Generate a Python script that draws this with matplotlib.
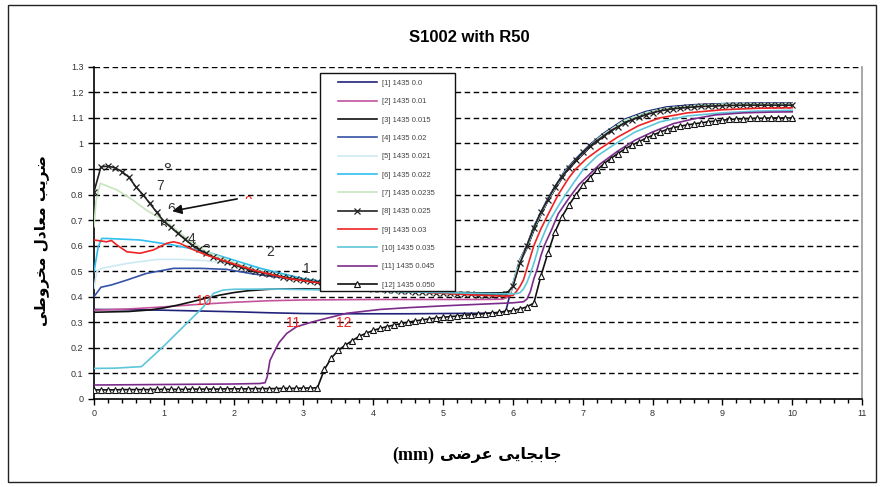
import numpy as np
import matplotlib
matplotlib.use("Agg")
import matplotlib.pyplot as plt
from matplotlib.patches import Rectangle
from matplotlib.transforms import Bbox, TransformedBbox

plt.rcParams['font.family'] = ['Liberation Sans', 'DejaVu Sans']

# ---- data ----
x_step = [round(0.1 * i, 1) for i in range(101)]  # markers every 0.1 mm

y_08 = [0.811, 0.909, 0.911, 0.905, 0.89, 0.868, 0.83, 0.80, 0.765, 0.73,
        0.695, 0.672, 0.648, 0.625, 0.603, 0.585, 0.57, 0.556, 0.545, 0.535,
        0.525, 0.516, 0.508, 0.50, 0.494, 0.488, 0.483, 0.477, 0.472, 0.468,
        0.464, 0.46, 0.456, 0.452, 0.449, 0.446, 0.443, 0.44, 0.437, 0.434,
        0.432, 0.43, 0.428, 0.426, 0.424, 0.422, 0.42, 0.419, 0.417, 0.416,
        0.414, 0.413, 0.412, 0.41, 0.409, 0.408, 0.407, 0.406, 0.406, 0.41,
        0.44, 0.53, 0.60, 0.67, 0.73, 0.78, 0.83, 0.87, 0.905, 0.935,
        0.965, 0.99, 1.01, 1.03, 1.05, 1.065, 1.08, 1.092, 1.102, 1.112,
        1.12, 1.127, 1.132, 1.136, 1.139, 1.141, 1.143, 1.145, 1.146, 1.147,
        1.148, 1.149, 1.149, 1.15, 1.15, 1.15, 1.15, 1.15, 1.15, 1.15, 1.15]

y_12 = [0.035, 0.035, 0.035, 0.035, 0.036, 0.036, 0.036, 0.036, 0.036, 0.037,
        0.037, 0.037, 0.037, 0.037, 0.038, 0.038, 0.038, 0.038, 0.038, 0.039,
        0.039, 0.039, 0.039, 0.040, 0.040, 0.040, 0.040, 0.041, 0.041, 0.041,
        0.042, 0.042, 0.043, 0.115, 0.16, 0.19, 0.21, 0.228, 0.245, 0.257,
        0.268, 0.276, 0.283, 0.289, 0.295, 0.300, 0.305, 0.309, 0.313, 0.316,
        0.319, 0.322, 0.324, 0.327, 0.329, 0.331, 0.334, 0.336, 0.339, 0.342,
        0.346, 0.352, 0.36, 0.375, 0.48, 0.57, 0.652, 0.712, 0.758, 0.798,
        0.836, 0.866, 0.895, 0.92, 0.941, 0.96, 0.978, 0.993, 1.006, 1.02,
        1.032, 1.044, 1.054, 1.062, 1.068, 1.073, 1.077, 1.081, 1.085, 1.088,
        1.091, 1.094, 1.096, 1.097, 1.098, 1.099, 1.099, 1.1, 1.1, 1.1, 1.1]

# rising part shared by the lines that jump at ~6 mm
x_rise = [6.0, 6.05, 6.1, 6.2, 6.3, 6.4, 6.5, 6.6, 6.75, 6.9, 7.1, 7.3, 7.6,
          7.9, 8.2, 8.6, 9.0, 9.5, 10]

x_01 = [0, 0.5, 1, 1.5, 2, 2.5, 3, 3.5, 4, 4.5, 5, 5.5, 5.8, 5.9, 5.95] + x_rise
y_01 = [0.35, 0.349, 0.347, 0.344, 0.341, 0.337, 0.334, 0.333, 0.333, 0.333,
        0.334, 0.335, 0.336, 0.345, 0.40,
        0.45, 0.50, 0.545, 0.60, 0.675, 0.73, 0.785, 0.83, 0.895, 0.94, 0.995,
        1.04, 1.095, 1.125, 1.143, 1.152, 1.156, 1.158, 1.158]

x_02 = [0, 0.5, 1, 1.5, 2, 2.5, 3, 3.5, 4, 4.5, 5, 5.5, 5.85, 5.95] + x_rise
y_02 = [0.347, 0.352, 0.36, 0.37, 0.378, 0.384, 0.387, 0.388, 0.389, 0.389,
        0.389, 0.389, 0.39, 0.40,
        0.44, 0.49, 0.535, 0.59, 0.665, 0.72, 0.775, 0.82, 0.885, 0.93, 0.985,
        1.03, 1.085, 1.117, 1.135, 1.145, 1.15, 1.152, 1.153]

x_03 = [0, 0.5, 0.8, 1.0, 1.2, 1.4, 1.6, 1.8, 2.0, 2.2, 2.5, 3.0, 3.5, 4.0,
        4.5, 5.0, 5.5, 5.85, 5.95] + x_rise
y_03 = [0.339, 0.342, 0.348, 0.356, 0.367, 0.38, 0.394, 0.406, 0.416, 0.423,
        0.429, 0.431, 0.428, 0.424, 0.42, 0.417, 0.415, 0.415, 0.42,
        0.445, 0.49, 0.535, 0.59, 0.66, 0.72, 0.775, 0.82, 0.885, 0.93, 0.985,
        1.03, 1.085, 1.117, 1.135, 1.146, 1.151, 1.153, 1.153]

x_04 = [0, 0.1, 0.25, 0.47, 0.75, 1.14, 1.52, 1.9, 2.28, 2.76, 3.2, 3.6, 4.0,
        4.5, 5.0, 5.5, 5.85, 5.95] + x_rise
y_04 = [0.40, 0.437, 0.446, 0.465, 0.491, 0.511, 0.511, 0.507, 0.489, 0.472,
        0.456, 0.444, 0.434, 0.424, 0.416, 0.409, 0.405, 0.41,
        0.445, 0.495, 0.54, 0.595, 0.67, 0.725, 0.78, 0.825, 0.89, 0.935, 0.99,
        1.035, 1.09, 1.12, 1.138, 1.148, 1.153, 1.155, 1.155]

x_05 = [0, 0.04, 0.11, 0.47, 0.9, 1.23, 1.61, 2.09, 2.57, 3.0, 3.5, 4.0, 4.5,
        5.0, 5.5, 5.85, 5.95] + x_rise
y_05 = [0.433, 0.498, 0.511, 0.53, 0.546, 0.546, 0.541, 0.524, 0.498, 0.472,
        0.452, 0.436, 0.425, 0.416, 0.409, 0.405, 0.41,
        0.445, 0.495, 0.54, 0.595, 0.67, 0.725, 0.78, 0.825, 0.89, 0.935, 0.99,
        1.035, 1.09, 1.12, 1.138, 1.148, 1.153, 1.155, 1.155]

x_06 = [0, 0.06, 0.11, 0.18, 0.66, 1.14, 1.61, 1.85, 2.1, 2.4, 2.7, 3.0, 3.5,
        4.0, 4.5, 5.0, 5.5, 5.85, 5.95] + x_rise
y_06 = [0.498, 0.595, 0.628, 0.628, 0.622, 0.602, 0.576, 0.556, 0.535, 0.51,
        0.49, 0.47, 0.45, 0.435, 0.424, 0.416, 0.409, 0.405, 0.41,
        0.445, 0.495, 0.54, 0.595, 0.67, 0.725, 0.78, 0.825, 0.89, 0.935, 0.99,
        1.035, 1.09, 1.12, 1.138, 1.148, 1.153, 1.155, 1.155]

x_07 = [0, 0.03, 0.09, 0.33, 0.56, 0.75, 1.04, 1.33, 1.61, 1.9, 2.2, 2.5, 3.0,
        3.5, 4.0, 4.5, 5.0, 5.5, 5.85, 5.95] + x_rise
y_07 = [0.674, 0.778, 0.844, 0.818, 0.778, 0.739, 0.693, 0.628, 0.576, 0.545,
        0.515, 0.49, 0.464, 0.446, 0.432, 0.422, 0.414, 0.408, 0.405, 0.41,
        0.445, 0.495, 0.54, 0.595, 0.67, 0.725, 0.78, 0.825, 0.89, 0.935, 0.99,
        1.035, 1.09, 1.12, 1.138, 1.148, 1.153, 1.155, 1.155]

x_09 = [0, 0.18, 0.25, 0.33, 0.47, 0.66, 0.85, 1.04, 1.14, 1.23, 1.38, 1.61,
        1.9, 2.28, 2.76, 3.2, 3.6, 4.0, 4.5, 5.0, 5.5, 5.9, 6.0, 6.05, 6.1,
        6.15, 6.2, 6.3, 6.4, 6.5, 6.65, 6.8, 6.9, 7.05, 7.25, 7.5, 7.8, 8.1,
        8.5, 9.0, 9.5, 10]
y_09 = [0.622, 0.615, 0.62, 0.602, 0.576, 0.57, 0.583, 0.609, 0.615, 0.609,
        0.589, 0.563, 0.537, 0.504, 0.472, 0.455, 0.442, 0.431, 0.421, 0.413,
        0.406, 0.402, 0.405, 0.42, 0.44, 0.465, 0.51, 0.60, 0.665, 0.72, 0.80,
        0.865, 0.90, 0.94, 0.98, 1.025, 1.07, 1.10, 1.12, 1.132, 1.138, 1.14]

x_10 = [0, 0.3, 0.68, 0.99, 1.33, 1.57, 1.71, 1.85, 2.0, 2.5, 3.0, 3.5, 4.0,
        4.5, 5.0, 5.5, 5.9, 6.05, 6.1, 6.15, 6.2, 6.25, 6.3, 6.37, 6.45, 6.53,
        6.65, 6.75, 6.88, 7.01, 7.2, 7.44, 7.75, 8.11, 8.5, 9.0, 9.5, 10]
y_10 = [0.119, 0.12, 0.126, 0.204, 0.296, 0.361, 0.413, 0.426, 0.429, 0.43,
        0.428, 0.425, 0.422, 0.419, 0.416, 0.413, 0.411, 0.412, 0.415, 0.43,
        0.455, 0.49, 0.53, 0.596, 0.65, 0.70, 0.755, 0.798, 0.85, 0.899, 0.95,
        0.994, 1.045, 1.085, 1.108, 1.12, 1.127, 1.13]

x_11 = [0, 0.5, 1, 1.5, 2, 2.38, 2.45, 2.48, 2.52, 2.57, 2.65, 2.76, 2.9,
        3.14, 3.4, 3.62, 4.1, 4.5, 5.0, 5.5, 6.0, 6.15, 6.2, 6.25, 6.3, 6.35,
        6.4, 6.45, 6.55, 6.65, 6.8, 6.95, 7.1, 7.25, 7.5, 7.75, 8.0, 8.3, 8.6,
        8.9, 9.3, 9.7, 10]
y_11 = [0.054, 0.055, 0.056, 0.057, 0.058, 0.06, 0.063, 0.085, 0.15, 0.178,
        0.22, 0.256, 0.282, 0.302, 0.32, 0.335, 0.35, 0.357, 0.364, 0.37,
        0.376, 0.38, 0.39, 0.42, 0.47, 0.51, 0.56, 0.60, 0.66, 0.725, 0.785,
        0.84, 0.88, 0.92, 0.97, 1.013, 1.045, 1.078, 1.097, 1.112, 1.12,
        1.123, 1.124]

labels = ["[1] 1435 0.0", "[2] 1435 0.01", "[3] 1435 0.015", "[4] 1435 0.02",
          "[5] 1435 0.021", "[6] 1435 0.022", "[7] 1435 0.0235",
          "[8] 1435 0.025", "[9] 1435 0.03", "[10] 1435 0.035",
          "[11] 1435 0.045", "[12] 1435 0.050"]
colors = ["#22237a", "#c4539c", "#111111", "#3553a6", "#cde9f4", "#2fbff0",
          "#c6e5bf", "#222222", "#ee2222", "#5dc6da", "#7b2c8b", "#111111"]

# curve labels written on the plot (text, x, y, colour)
notes = [("7", 0.946, 0.834, "#333333"), ("2", 2.52, 0.575, "#333333"),
         ("1", 3.05, 0.508, "#333333"), ("4", 1.40, 0.626, "#333333"),
         ("10", 1.566, 0.384, "#ee2222"), ("11", 2.85, 0.297, "#ee2222"),
         ("12", 3.57, 0.297, "#ee2222")]
# partly hidden labels: (text, x, y, colour, visible-from y)
hidden = [("8", 1.056, 0.902, "#333333", 0.905), ("9", 2.21, 0.772, "#ee2222", 0.782),
          ("6", 1.10, 0.745, "#333333", 0.745), ("5", 0.99, 0.673, "#333333", 0.672),
          ("3", 1.61, 0.583, "#333333", 0.590)]


def visual(forms):
    # presentation forms in reading order -> left-to-right drawing order
    return "".join(reversed(forms))


zarib = visual("\ufebf\ufeae\ufef3\ufe90")
moadel = visual("\ufee3\ufecc\ufe8e\ufea9\ufedd")
makhruti = visual("\ufee3\ufea8\ufeae\ufeed\ufec3\ufef0")
jabejayi = visual("\ufe9f\ufe8e\ufe91\ufea0\ufe8e\ufef3\ufef0")
arzi = visual("\ufecb\ufeae\ufebf\ufef0")
ylabel_txt = makhruti + " " + moadel + " " + zarib
xlabel_txt = arzi + " " + jabejayi

# ---- figure ----
fig = plt.figure(figsize=(8.81, 4.87), dpi=100)
fig.patches.append(Rectangle((8 / 881, 5 / 487), 868 / 881, 477 / 487,
                             transform=fig.transFigure, fill=False,
                             edgecolor="#222222", linewidth=1.0))
ax = fig.add_axes([94 / 881, 1 - 398.8 / 487, 768 / 881, 331.9 / 487])

for v in np.arange(1, 14) / 10:
    ax.axhline(v, color="black", linestyle=(0, (4, 2.5)), linewidth=1.0, zorder=1)

series = [(x_01, y_01), (x_02, y_02), (x_03, y_03), (x_04, y_04), (x_05, y_05),
          (x_06, y_06), (x_07, y_07), (x_step, y_08), (x_09, y_09),
          (x_10, y_10), (x_11, y_11), (x_step, y_12)]
handles = []
for i, (xs, ys) in enumerate(series):
    kw = dict(color=colors[i], linewidth=1.2, zorder=3)
    if i == 7:
        kw.update(marker="x", markersize=4, markeredgewidth=0.9)
    if i == 11:
        kw.update(marker="^", markersize=5, markerfacecolor="white",
                  markeredgecolor="#111111", markeredgewidth=0.8)
    h, = ax.plot(xs, ys, label=labels[i], **kw)
    handles.append(h)

for t, x, y, c in notes:
    ax.text(x, y, t, color=c, fontsize=10, ha="center", va="center", zorder=4)
for t, x, y, c, ycut in hidden:
    tx = ax.text(x, y, t, color=c, fontsize=10, ha="center", va="center", zorder=4)
    tx.set_clip_box(TransformedBbox(Bbox([[x - 0.2, ycut], [x + 0.2, y + 0.1]]),
                                    ax.transData))
    tx.set_clip_on(True)

ax.annotate("", xy=(1.08, 0.733), xytext=(2.09, 0.785),
            arrowprops=dict(arrowstyle="-|>", color="#111111", lw=1.2,
                            mutation_scale=14), zorder=5)

ax.set_xlim(0, 11)
ax.set_ylim(0, 1.3)
ax.set_xticks(range(12))
ax.set_xticks(np.arange(0, 11.01, 0.2), minor=True)
ax.set_yticks(np.arange(0, 14) / 10)
ax.set_yticklabels([f"{v:g}" for v in np.arange(0, 14) / 10])
ax.tick_params(axis="both", which="major", labelsize=6.5, labelcolor="#333333",
               length=4, width=1, direction="out")
ax.tick_params(axis="x", which="minor", length=3, width=1, direction="out")
ax.spines["top"].set_visible(False)
ax.spines["right"].set_color("#999999")
ax.spines["right"].set_linewidth(1.2)
ax.spines["left"].set_linewidth(1.2)
ax.spines["bottom"].set_linewidth(1.2)

# legend box drawn by hand so the entries can sit inset like the original
ax.add_patch(Rectangle((0.2943, 0.3257), 0.1758, 0.655, transform=ax.transAxes,
                       facecolor="white", edgecolor="#111111", linewidth=1.0,
                       zorder=9))
leg = ax.legend(handles=handles, loc="upper left", bbox_to_anchor=(0.3177, 0.962),
                fontsize=5.5, labelspacing=1.44, handlelength=5.1,
                handletextpad=0.65, borderaxespad=0, borderpad=0,
                frameon=False)
leg.set_zorder(10)
for t in leg.get_texts():
    t.set_color("#444444")

fig.text(0.533, 0.922, "S1002 with R50", fontsize=12, fontweight="bold",
         ha="center", va="center")
fig.text(440 / 881, 1 - 455 / 487, xlabel_txt, fontsize=11.5, fontweight="bold",
         ha="left", va="center", family=["DejaVu Sans"])
fig.text(434 / 881, 1 - 455 / 487, "(mm)", fontsize=13, fontweight="bold",
         ha="right", va="center", family=["Liberation Serif"])
fig.text(42 / 881, 1 - 240 / 487, ylabel_txt, fontsize=11, fontweight="bold",
         rotation=90, ha="center", va="center", family=["DejaVu Sans"])

fig.savefig("out.png", dpi=100)
